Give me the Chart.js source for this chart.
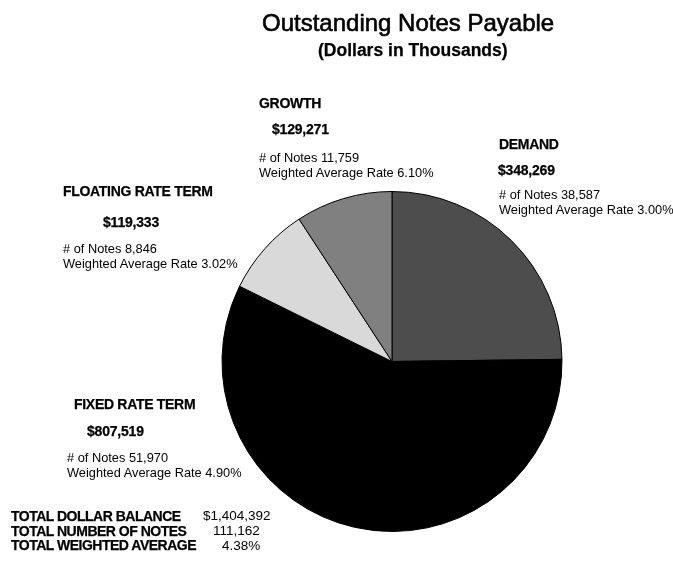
<!DOCTYPE html>
<html>
<head>
<meta charset="utf-8">
<script src="https://cdn.jsdelivr.net/npm/chart.js@4/dist/chart.umd.min.js"></script>
<style>
    html, body { margin: 0; padding: 0; background: #fff; }
    #wrap {
        position: relative;
        width: 673px;
        height: 561px;
        overflow: hidden;
        font-family: "Liberation Sans", Arial, sans-serif;
        color: #000;
    }
    #wrap canvas { position: absolute; left: 0; top: 0; }
    .t { position: absolute; white-space: nowrap; line-height: 1; }
    .b { font-weight: bold; -webkit-text-stroke: 0.25px #000; }
</style>
</head>
<body>
<div id="wrap"><canvas id="pie" width="673" height="561"></canvas></div>
<script>
// Data
const categories = ['DEMAND', 'FIXED RATE TERM', 'FLOATING RATE TERM', 'GROWTH'];
const balances = [348269, 807519, 119333, 129271];
const noteCounts = [38587, 51970, 8846, 11759];
const avgRates = [3.00, 4.90, 3.02, 6.10];
const sliceColors = ['#4d4d4d', '#000000', '#d9d9d9', '#808080'];

const totalLabels = ['TOTAL DOLLAR BALANCE', 'TOTAL NUMBER OF NOTES', 'TOTAL WEIGHTED AVERAGE'];
const totalAvgRate = 4.38;

// Label layout (x of name, x of amount, x of details, baselines)
const nameX = [499, 74, 63, 259];
const amountX = [498, 87, 103, 272];
const detailX = [499, 67, 63, 259];
const nameY = [148.5, 408.5, 196, 108];
const amountY = [175, 436, 226.5, 133.5];
const detailY = [200, 462.7, 253.5, 162.7];

const wrap = document.getElementById('wrap');

const fmt = (n) => n.toLocaleString('en-US');

function put(text, x, baseline, size, bold, extra) {
    const el = document.createElement('div');
    el.className = 't' + (bold ? ' b' : '');
    el.textContent = text;
    el.style.fontSize = size + 'px';
    el.style.left = x + 'px';
    el.style.top = (baseline - 0.8465 * size) + 'px';
    if (extra) Object.assign(el.style, extra);
    wrap.appendChild(el);
    return el;
}

// Titles
put('Outstanding Notes Payable', 262, 31.5, 24, false, { WebkitTextStroke: '0.6px #000' });
put('(Dollars in Thousands)', 318, 56.7, 17.5, true);

// Slice labels
categories.forEach((name, i) => {
    put(name, nameX[i], nameY[i], 14, true, { letterSpacing: '-0.3px' });
    put('$' + fmt(balances[i]), amountX[i], amountY[i], 14, true, { letterSpacing: '-0.2px' });
    put('# of Notes ' + fmt(noteCounts[i]), detailX[i], detailY[i], 12.8, false);
    put('Weighted Average Rate ' + avgRates[i].toFixed(2) + '%', detailX[i], detailY[i] + 15.3, 12.8, false);
});

// Totals
const totalBalance = balances.reduce((a, b) => a + b, 0);
const totalNotes = noteCounts.reduce((a, b) => a + b, 0);
const totalValues = ['$' + fmt(totalBalance), fmt(totalNotes), totalAvgRate.toFixed(2) + '%'];
const totalValueX = [203, 213, 222];
totalLabels.forEach((label, i) => {
    const y = 520.7 + i * 14.7;
    put(label, 11, y, 14, true, { letterSpacing: '-0.5px' });
    put(totalValues[i], totalValueX[i], y, 13.5, false);
});

// Pie
new Chart(document.getElementById('pie'), {
    type: 'pie',
    data: {
        labels: categories,
        datasets: [{
            data: balances,
            backgroundColor: sliceColors,
            borderColor: '#000',
            borderWidth: 1,
            hoverOffset: 0
        }]
    },
    options: {
        responsive: false,
        animation: false,
        devicePixelRatio: 1,
        layout: {
            padding: { left: 221, top: 191, right: 110, bottom: 29 }
        },
        plugins: {
            legend: { display: false },
            tooltip: { enabled: false },
            title: { display: false }
        }
    }
});
</script>
</body>
</html>
